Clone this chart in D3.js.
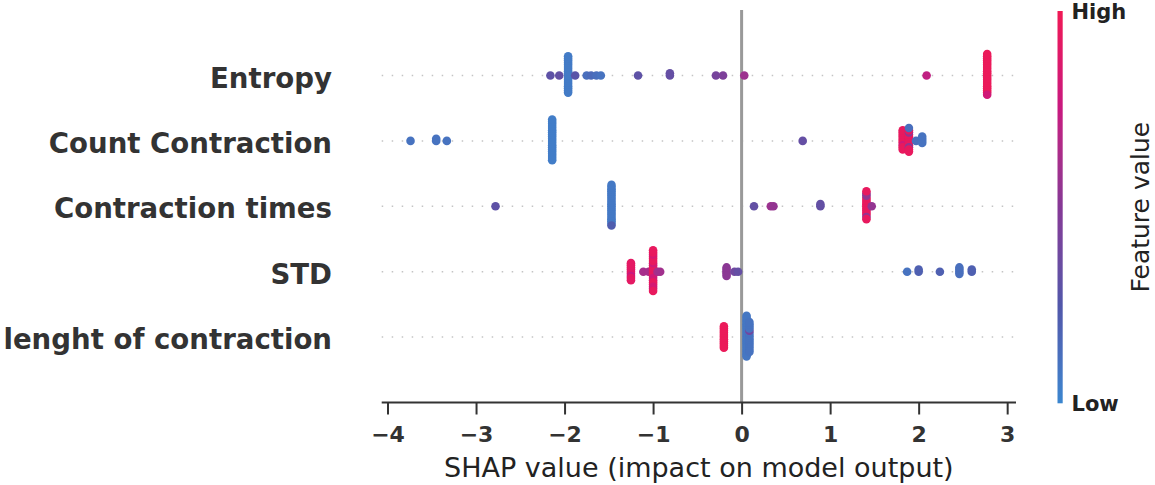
<!DOCTYPE html>
<html>
<head>
<meta charset="utf-8">
<script src="https://cdn.jsdelivr.net/npm/d3@7"></script>
<style>
  body { margin: 0; background: #fff; }
  text { font-family: "DejaVu Sans", sans-serif; }
</style>
</head>
<body>
<div id="chart"></div>
<script>
// features from top to bottom
const features = ["Entropy", "Count Contraction", "Contraction times", "STD", "lenght of contraction"];

// each entry: [shap value, normalised feature value (0 = low, 1 = high), number of samples]
const entropy = [
  [-2.16, 0.30, 1], [-2.06, 0.32, 1], [-1.96, 0.06, 18], [-1.88, 0.28, 1],
  [-1.75, 0.12, 1], [-1.70, 0.15, 1], [-1.64, 0.12, 1], [-1.59, 0.10, 1],
  [-1.17, 0.30, 1], [-0.81, 0.33, 2], [-0.29, 0.42, 1], [-0.21, 0.45, 1],
  [0.03, 0.58, 1], [2.09, 0.72, 1],
  [2.774, 0.97, 18], [2.774, 0.80, 1], [2.774, 0.97, 1]
];
const countContraction = [
  [-3.74, 0.10, 1], [-3.45, 0.10, 2], [-3.33, 0.10, 1], [-2.14, 0.05, 20],
  [0.69, 0.33, 1],
  [1.82, 0.95, 4], [1.82, 0.78, 1], [1.82, 0.95, 5],
  [1.89, 0.95, 6], [1.89, 0.55, 2], [1.89, 0.95, 3], [1.89, 0.12, 1],
  [1.97, 0.12, 1], [2.04, 0.10, 4]
];
const contractionTimes = [
  [-2.78, 0.30, 1],
  [-1.47, 0.07, 18], [-1.47, 0.22, 1], [-1.47, 0.07, 1],
  [0.14, 0.32, 1], [0.33, 0.58, 1], [0.36, 0.55, 1], [0.89, 0.32, 2],
  [1.41, 0.95, 9], [1.41, 0.55, 3], [1.41, 0.95, 2], [1.47, 0.55, 1]
];
const std = [
  [-1.25, 0.90, 4], [-1.25, 0.75, 1], [-1.25, 0.92, 4],
  [-1.11, 0.62, 1], [-1.05, 0.62, 1],
  [-1.00, 0.95, 6], [-1.00, 0.80, 3], [-1.00, 0.95, 5], [-1.00, 0.82, 3], [-1.00, 0.95, 3],
  [-0.95, 0.62, 1], [-0.92, 0.60, 1],
  [-0.17, 0.52, 5], [-0.08, 0.38, 1], [-0.04, 0.33, 1],
  [1.87, 0.10, 1], [2.00, 0.20, 2], [2.24, 0.20, 1], [2.46, 0.12, 4], [2.60, 0.20, 2]
];
const lenghtOfContraction = [
  [-0.20, 0.97, 11],
  [0.056, 0.08, 20],
  [0.088, 0.10, 5], [0.088, 0.40, 1], [0.088, 0.10, 9]
];
const featureData = [entropy, countContraction, contractionTimes, std, lenghtOfContraction];

const xTicks = [-4, -3, -2, -1, 0, 1, 2, 3];
const colorStops = ["#3a86cf", "#5157aa", "#853896", "#c8197f", "#f01a55"];
const colorLabels = ["Low", "High"];

var width = 1155, height = 485;
var plot = { left: 381.7, right: 1016, top: 10.1, bottom: 402.5 };

var svg = d3.select("#chart").append("svg")
    .attr("width", width)
    .attr("height", height);

// x limits like matplotlib: data range plus 5% margins
var allShap = featureData.flat().map(d => d[0]);
var lo = d3.min(allShap), hi = d3.max(allShap), pad = 0.05 * (hi - lo);
var x = d3.scaleLinear().domain([lo - pad, hi + pad]).range([plot.left, plot.right]);

// row positions: bottom feature at 0
var nF = features.length;
var y = d3.scaleLinear().domain([-1, nF]).range([plot.bottom, plot.top]);
var rowPos = i => nF - 1 - i;

var color = d3.scaleLinear()
    .domain(d3.range(colorStops.length).map(i => i / (colorStops.length - 1)))
    .range(colorStops)
    .interpolate(d3.interpolateLab);

// dotted row guides and zero line (behind dots)
svg.append("g").selectAll("line")
  .data(features)
  .enter().append("line")
    .attr("x1", plot.left).attr("x2", plot.right)
    .attr("y1", (d, i) => y(rowPos(i))).attr("y2", (d, i) => y(rowPos(i)))
    .style("stroke", "#c4c4c4")
    .style("stroke-width", "1.5px")
    .style("stroke-dasharray", "1.5,8.5");

svg.append("line")
    .attr("x1", x(0)).attr("x2", x(0))
    .attr("y1", plot.top).attr("y2", plot.bottom)
    .style("stroke", "#999999")
    .style("stroke-width", "3px");

// beeswarm layout, same binning as shap summary plot
function swarm(groups) {
    var pts = [];
    groups.forEach(g => {
        for (var k = 0; k < g[2]; k++) pts.push({ shap: g[0], value: g[1] });
    });
    var mn = d3.min(pts, p => p.shap), mx = d3.max(pts, p => p.shap);
    var nbins = 100;
    pts.forEach(p => p.bin = Math.round(nbins * (p.shap - mn) / (mx - mn + 1e-8)));
    var order = d3.range(pts.length).sort((a, b) => pts[a].bin - pts[b].bin || a - b);
    var layer = 0, last = -1;
    order.forEach(i => {
        if (pts[i].bin !== last) layer = 0;
        pts[i].off = Math.ceil(layer / 2) * ((layer % 2) * 2 - 1);
        layer++;
        last = pts[i].bin;
    });
    var maxOff = d3.max(pts, p => p.off + 1);
    pts.forEach(p => p.off *= 0.9 * (0.4 / maxOff));
    return pts;
}

featureData.forEach(function (groups, i) {
    var pts = swarm(groups);
    svg.append("g").selectAll("circle")
      .data(pts)
      .enter().append("circle")
        .attr("cx", d => x(d.shap))
        .attr("cy", d => y(rowPos(i) + d.off))
        .attr("r", 4.3)
        .style("fill", d => color(d.value));
});

// feature labels
svg.append("g").selectAll("text")
  .data(features)
  .enter().append("text")
    .attr("x", 332)
    .attr("y", (d, i) => y(rowPos(i)) + 12)
    .attr("text-anchor", "end")
    .style("font-size", "27.6px")
    .style("font-weight", "bold")
    .style("fill", "#333333")
    .text(d => d);

// x axis
var xAxis = svg.append("g")
    .attr("transform", "translate(0," + plot.bottom + ")")
    .call(d3.axisBottom(x).tickValues(xTicks).tickSize(12).tickSizeOuter(0).tickPadding(12));
xAxis.select(".domain")
    .attr("d", "M" + plot.left + ",0H" + plot.right)
    .style("stroke", "#333333")
    .style("stroke-width", "2px");
xAxis.selectAll(".tick line").style("stroke", "#333333").style("stroke-width", "2px");
xAxis.selectAll(".tick text")
    .style("font-family", "DejaVu Sans")
    .style("font-size", "22px")
    .style("font-weight", "bold")
    .style("fill", "#333333");

svg.append("text")
    .attr("x", (plot.left + plot.right) / 2)
    .attr("y", 476.5)
    .attr("text-anchor", "middle")
    .style("font-size", "27px")
    .style("fill", "#222222")
    .text("SHAP value (impact on model output)");

// colour bar
var cb = { x: 1057.5, w: 5.2, top: 11, bottom: 403.3 };
var grad = svg.append("defs").append("linearGradient")
    .attr("id", "cbar")
    .attr("x1", 0).attr("y1", 1).attr("x2", 0).attr("y2", 0);
grad.selectAll("stop")
  .data(d3.range(0, 1.0001, 0.05))
  .enter().append("stop")
    .attr("offset", d => d)
    .attr("stop-color", d => color(d));
svg.append("rect")
    .attr("x", cb.x).attr("y", cb.top)
    .attr("width", cb.w).attr("height", cb.bottom - cb.top)
    .style("fill", "url(#cbar)");

svg.append("g").selectAll("text")
  .data(colorLabels)
  .enter().append("text")
    .attr("x", cb.x + 14)
    .attr("y", (d, i) => (i === 0 ? cb.bottom : cb.top) + 7.8)
    .style("font-size", "21px")
    .style("font-weight", "bold")
    .style("fill", "#222222")
    .text(d => d);

svg.append("text")
    .attr("transform", "translate(1149," + (cb.top + cb.bottom) / 2 + ") rotate(-90)")
    .attr("text-anchor", "middle")
    .style("font-size", "25px")
    .style("fill", "#222222")
    .text("Feature value");
</script>
</body>
</html>
